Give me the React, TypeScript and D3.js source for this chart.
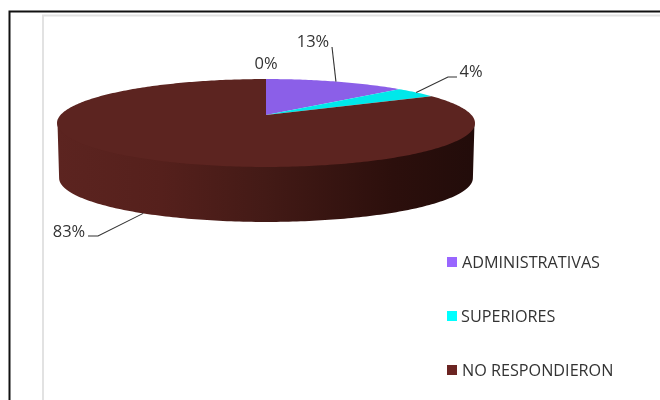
import * as d3 from "d3";

const labels = ["", "ADMINISTRATIVAS", "SUPERIORES", "NO RESPONDIERON"];
const values = [0, 13, 4, 83];
const colors = ["#8b5fe8", "#8b5fe8", "#00e8ea", "#5c2420"];
const legendColors = ["#9966ff", "#00ffff", "#6b2422"];
const legendNames = labels.slice(1);

const width = 660;
const height = 400;
const font = "'Open Sans', 'DejaVu Sans', sans-serif";

// perspective of the pie plane, fitted on the ellipse in the picture
const cx = 266;
const cy = 115;
const rx = 205.5;
const ry = 42.5;
const k = 0.1818;
const depth = 55;

const project = (a: number, shrink = 1, dy = 0): [number, number] => {
  const w = 1 + k * Math.cos(a);
  return [
    cx + (shrink * rx * Math.sin(a)) / w,
    cy + dy - (ry * Math.cos(a)) / w,
  ];
};

const line = d3.line();
const rim = (a0: number, a1: number, shrink = 1, dy = 0) => {
  const n = Math.max(2, Math.ceil(Math.abs(a1 - a0) * 60));
  return d3.range(n + 1).map((i) => project(a0 + ((a1 - a0) * i) / n, shrink, dy));
};

const arcs = d3.pie<number>().sort(null)(values);

// label position and elbow of each leader line
const leaders: { elbow: [number, number][]; x: number; y: number }[] = [
  { elbow: [], x: 266, y: 69 },
  { elbow: [[332, 47]], x: 313, y: 46.5 },
  { elbow: [[448, 77], [457, 77]], x: 471, y: 76.5 },
  { elbow: [[98, 236], [88, 236]], x: 69, y: 237 },
];

export default function App() {
  const side = Math.acos(-k);
  // top edge of the wall sits a little under the face so no seam shows
  const wall =
    "M" +
    [
      ...rim(side, 2 * Math.PI - side, 0.998, -2),
      ...rim(2 * Math.PI - side, side, 0.99, depth),
    ]
      .map((p) => p.join(","))
      .join("L") +
    "Z";

  const legendY = d3.scalePoint<string>().domain(legendNames).range([262, 370]);

  return (
    <svg
      width={width}
      height={height}
      viewBox={`0 0 ${width} ${height}`}
      style={{ position: "absolute", left: 0, top: 0, background: "#fff" }}
    >
      <defs>
        <linearGradient id="wall" gradientUnits="userSpaceOnUse" x1={57} x2={475} y1={0} y2={0}>
          <stop offset="0" stopColor="#5c2420" />
          <stop offset="0.25" stopColor="#55201c" />
          <stop offset="0.5" stopColor="#431a16" />
          <stop offset="0.8" stopColor="#2c0f0c" />
          <stop offset="1" stopColor="#220c0a" />
        </linearGradient>
        <filter id="soft" x="0" y="0" width="100%" height="100%" colorInterpolationFilters="sRGB">
          <feGaussianBlur stdDeviation="0.4" />
        </filter>
      </defs>

      {/* frames */}
      <path d="M43,400V15.5H660" fill="none" stroke="#e2e2e2" strokeWidth={2} />
      <path d="M9.5,400V11.5H660" fill="none" stroke="#111" strokeWidth={2} />

      <g filter="url(#soft)">
        <path d={wall} fill="url(#wall)" />

        {arcs.map((d, i) =>
          d.endAngle > d.startAngle ? (
            <path
              key={i}
              d={line([[cx, cy], ...rim(d.startAngle, d.endAngle)]) + "Z"}
              fill={colors[i]}
            />
          ) : null
        )}

        {arcs.map((d, i) => {
          const l = leaders[i];
          if (!l.elbow.length) return null;
          const mid = (d.startAngle + d.endAngle) / 2;
          const front = mid > side;
          const anchor = project(mid, front ? 0.99 : 1, front ? depth : 0);
          return (
            <path
              key={i}
              d={line([anchor, ...l.elbow]) ?? ""}
              fill="none"
              stroke="#333"
              strokeWidth={1.1}
            />
          );
        })}

        {values.map((v, i) => (
          <text
            key={i}
            x={leaders[i].x}
            y={leaders[i].y}
            textAnchor="middle"
            fontFamily={font}
            fontSize={16.5}
            fill="#333"
          >
            {v}%
          </text>
        ))}

        {legendNames.map((name, i) => {
          const y = legendY(name) as number;
          return (
            <g key={name}>
              <rect x={447} y={y - 5} width={10} height={10} fill={legendColors[i]} />
              <text
                x={i === 1 ? 461 : 462}
                y={y + 5.5}
                fontFamily={font}
                fontSize={16.2}
                fill="#333"
              >
                {name}
              </text>
            </g>
          );
        })}
      </g>
    </svg>
  );
}
